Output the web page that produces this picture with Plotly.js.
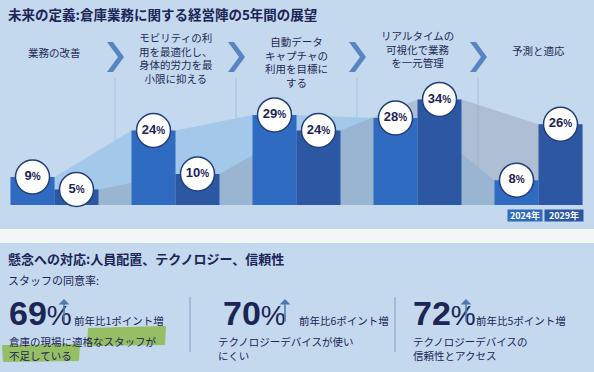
<!DOCTYPE html>
<html><head><meta charset="utf-8">
<script src="https://cdn.plot.ly/plotly-3.0.1.min.js"></script>
<style>html,body{margin:0;padding:0;background:#c4d9ee;} #chart{width:594px;height:372px;}</style>
</head><body><div id="chart"></div>
<script>
// ---------- data ----------
const stages = [
  '業務の改善',
  'モビリティの利<br>用を最適化し、<br>身体的労力を最<br>小限に抑える',
  '自動データ<br>キャプチャの<br>利用を目標に<br>する',
  'リアルタイムの<br>可視化で業務<br>を一元管理',
  '予測と適応'
];
const share2024 = [9, 24, 29, 28, 8];
const share2029 = [5, 10, 24, 34, 26];
const years = ['2024年', '2029年'];
const titleTop = '未来の定義:倉庫業務に関する経営陣の5年間の展望';
const titleBottom = '懸念への対応:人員配置、テクノロジー、信頼性';
const agreeLabel = 'スタッフの同意率:';
const agreePct = [69, 70, 72];
const yoyPts = [1, 6, 5];
const concerns = [
  '倉庫の現場に適格なスタッフが<br>不足している',
  'テクノロジーデバイスが使い<br>にくい',
  'テクノロジーデバイスの<br>信頼性とアクセス'
];

// ---------- layout helpers ----------
const W = 594, H = 372, BASE = 205;
const py = p => (BASE - p) / BASE;
const px = p => p / W;
const PITCH = 121, BW = 44 / PITCH;
const XR = [-54.5 / PITCH, (W - 54.5) / PITCH];
const YR = [0, 66];
const JP = '"Noto Sans CJK JP", "Noto Sans", sans-serif';
const NUM = '"Liberation Sans", Arial, sans-serif';
const NAVY = '#1c2556';
const C24 = '#2f6cc1', C29 = '#2b57a3';

const idx = stages.map((_, i) => i);
const a24x = [], a24y = [], a29x = [], a29y = [];
idx.forEach(i => {
  a24x.push(i - BW, i); a24y.push(share2024[i], share2024[i]);
  a29x.push(i, i + BW); a29y.push(share2029[i], share2029[i]);
});
const fmt = v => '<b>' + v + '<span style="font-size:10px">%</span></b>';

const traces = [
  {type: 'scatter', x: a24x, y: a24y, mode: 'lines', line: {width: 0, color: '#a3c8ea'},
   fill: 'tozeroy', fillcolor: '#a3c8ea', hoverinfo: 'skip'},
  {type: 'scatter', x: a29x, y: a29y, mode: 'lines', line: {width: 0, color: '#999'},
   fill: 'tozeroy', fillcolor: 'rgba(140,150,172,0.38)', hoverinfo: 'skip'},
  {type: 'bar', name: years[0], x: idx, y: share2024, width: BW, offset: -BW,
   marker: {color: C24, line: {width: 0}}, xaxis: 'x2', yaxis: 'y2'},
  {type: 'bar', name: years[1], x: idx, y: share2029, width: BW, offset: 0,
   marker: {color: C29, line: {width: 0}}, xaxis: 'x2', yaxis: 'y2'},
  {type: 'scatter', mode: 'markers+text', x: idx.map(i => i - BW / 2), y: share2024,
   text: share2024.map(fmt), textposition: 'middle center', cliponaxis: false,
   marker: {size: 34, color: 'white', line: {color: '#223f7a', width: 1.5}},
   textfont: {family: NUM, size: 13, color: NAVY}, xaxis: 'x2', yaxis: 'y2'},
  {type: 'scatter', mode: 'markers+text', x: idx.map(i => i + BW / 2), y: share2029,
   text: share2029.map(fmt), textposition: 'middle center', cliponaxis: false,
   marker: {size: 34, color: 'white', line: {color: '#223f7a', width: 1.5}},
   textfont: {family: NUM, size: 13, color: NAVY}, xaxis: 'x2', yaxis: 'y2'}
];

const shapes = [];
const annotations = [];

// white separator band
shapes.push({type: 'rect', xref: 'paper', yref: 'paper', x0: 0, x1: 1, y0: py(243), y1: py(229),
  fillcolor: '#f3f6f9', line: {width: 0}, layer: 'below'});

// header separators + chevrons
for (let i = 0; i < stages.length - 1; i++) {
  shapes.push({type: 'line', xref: 'x', yref: 'paper', x0: i + 0.5, x1: i + 0.5, y0: 0, y1: py(78),
    line: {color: '#a9c2dd', width: 1}, layer: 'below'});
  shapes.push({type: 'path', xref: 'x', yref: 'paper', xsizemode: 'pixel', ysizemode: 'pixel',
    xanchor: i + 0.5, yanchor: py(57), path: 'M -8 15 L -2 15 L 9 0 L -2 -15 L -8 -15 L 3 0 Z',
    fillcolor: '#5784c2', line: {width: 0}});
}

// header labels
const headerY = [52, 58, 62, 49, 50];
stages.forEach((s, i) => annotations.push({xref: 'x', yref: 'paper', x: i, y: py(headerY[i]),
  xanchor: 'center', yanchor: 'middle', text: s, showarrow: false, align: 'center',
  font: {family: JP, size: 10.5, color: '#1f2a55'}}));

// titles
annotations.push({xref: 'paper', yref: 'paper', x: px(6), y: py(14), xanchor: 'left', yanchor: 'middle',
  text: '<b>' + titleTop + '</b>', showarrow: false, font: {family: JP, size: 13.5, color: NAVY}});
annotations.push({xref: 'paper', yref: 'paper', x: px(6), y: py(258), xanchor: 'left', yanchor: 'middle',
  text: '<b>' + titleBottom + '</b>', showarrow: false, font: {family: JP, size: 13, color: NAVY}});
annotations.push({xref: 'paper', yref: 'paper', x: px(6), y: py(280), xanchor: 'left', yanchor: 'middle',
  text: agreeLabel, showarrow: false, font: {family: JP, size: 11, color: NAVY}});

// legend boxes
[[years[0], 525, C24, 34], [years[1], 564, C29, 38]].forEach(([t, cx, c, w]) =>
  annotations.push({xref: 'paper', yref: 'paper', x: px(cx), y: py(215.5), xanchor: 'center', yanchor: 'middle',
    text: '<b>' + t + '</b>', showarrow: false, bgcolor: c, width: w, height: 11, borderpad: 0,
    font: {family: JP, size: 9, color: 'white'}}));

// lower section
const numX = [7, 221, 411], arrowX = [64, 285, 466], deltaX = [72, 297, 474], descX = [7, 216, 411];
agreePct.forEach((v, k) => {
  annotations.push({xref: 'paper', yref: 'paper', x: px(numX[k]), y: py(313), xanchor: 'left', yanchor: 'middle',
    text: '<b>' + v + '</b><span style="font-size:28px">%</span>', showarrow: false,
    font: {family: NUM, size: 34, color: NAVY}});
  annotations.push({xref: 'paper', yref: 'paper', x: px(arrowX[k]), y: py(299), text: '', showarrow: true,
    ax: 0, ay: 24, arrowhead: 1, arrowsize: 1.2, arrowwidth: 1.5, arrowcolor: '#4a77b3'});
  annotations.push({xref: 'paper', yref: 'paper', x: px(deltaX[k]), y: py(320), xanchor: 'left', yanchor: 'middle',
    text: '前年比' + yoyPts[k] + 'ポイント増', showarrow: false, font: {family: JP, size: 10.5, color: NAVY}});
  annotations.push({xref: 'paper', yref: 'paper', x: px(descX[k]), y: py(331.5), xanchor: 'left', yanchor: 'top',
    text: concerns[k], align: 'left', showarrow: false, font: {family: JP, size: 10.5, color: NAVY}});
});
[190, 395].forEach(x => shapes.push({type: 'line', xref: 'paper', yref: 'paper', x0: px(x), x1: px(x),
  y0: py(297), y1: py(352), line: {color: '#7f9dc3', width: 1}}));

// highlighter strokes
shapes.push({type: 'path', xref: 'paper', yref: 'paper',
  path: `M ${px(88)} ${py(328)} L ${px(166)} ${py(326)} L ${px(165)} ${py(345)} L ${px(87)} ${py(346)} Z`,
  fillcolor: 'rgba(135,180,55,0.75)', line: {width: 0}});
shapes.push({type: 'path', xref: 'paper', yref: 'paper',
  path: `M ${px(2)} ${py(345)} L ${px(80)} ${py(344)} L ${px(79)} ${py(361)} L ${px(3)} ${py(362)} Z`,
  fillcolor: 'rgba(135,180,55,0.75)', line: {width: 0}});

const layout = {
  width: W, height: H, margin: {l: 0, r: 0, t: 0, b: H - BASE, pad: 0},
  paper_bgcolor: '#c4d9ee', plot_bgcolor: 'rgba(0,0,0,0)', showlegend: false, barmode: 'overlay',
  xaxis: {range: XR, visible: false, fixedrange: true},
  yaxis: {range: YR, visible: false, fixedrange: true},
  xaxis2: {range: XR, visible: false, overlaying: 'x', fixedrange: true},
  yaxis2: {range: YR, visible: false, overlaying: 'y', fixedrange: true},
  shapes, annotations
};
Plotly.newPlot('chart', traces, layout, {displayModeBar: false, staticPlot: true});
</script></body></html>
